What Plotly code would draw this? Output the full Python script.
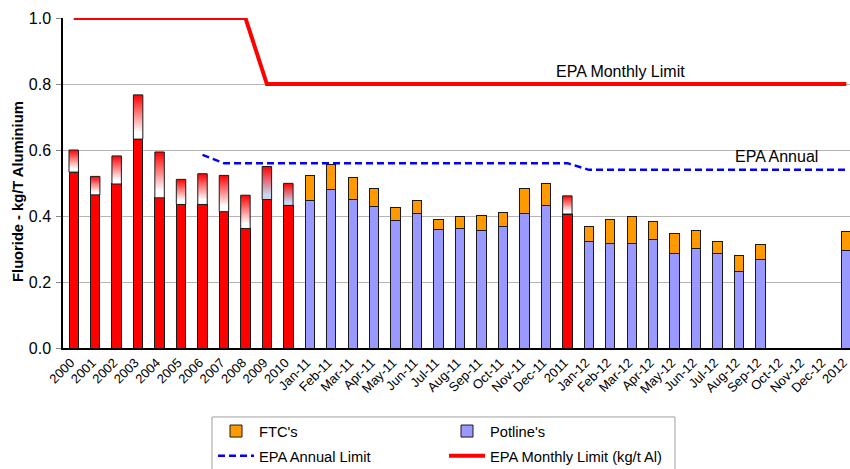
import plotly.graph_objects as go

labels = ["2000", "2001", "2002", "2003", "2004", "2005", "2006", "2007", "2008", "2009", "2010",
          "Jan-11", "Feb-11", "Mar-11", "Apr-11", "May-11", "Jun-11", "Jul-11", "Aug-11", "Sep-11",
          "Oct-11", "Nov-11", "Dec-11", "2011",
          "Jan-12", "Feb-12", "Mar-12", "Apr-12", "May-12", "Jun-12", "Jul-12", "Aug-12", "Sep-12",
          "Oct-12", "Nov-12", "Dec-12", "2012"]

# Annual results: solid lower part and total (top of faded part)
annual_labels = ["2000", "2001", "2002", "2003", "2004", "2005", "2006", "2007", "2008", "2009", "2010", "2011"]
annual_base = [0.533, 0.464, 0.497, 0.633, 0.455, 0.435, 0.435, 0.413, 0.362, 0.450, 0.432, 0.406]
annual_total = [0.600, 0.520, 0.582, 0.767, 0.594, 0.511, 0.528, 0.523, 0.463, 0.550, 0.499, 0.461]

# Monthly results
monthly_labels = ["Jan-11", "Feb-11", "Mar-11", "Apr-11", "May-11", "Jun-11", "Jul-11", "Aug-11",
                  "Sep-11", "Oct-11", "Nov-11", "Dec-11",
                  "Jan-12", "Feb-12", "Mar-12", "Apr-12", "May-12", "Jun-12", "Jul-12", "Aug-12",
                  "Sep-12", "2012"]
potline = [0.448, 0.479, 0.449, 0.428, 0.385, 0.408, 0.358, 0.361, 0.355, 0.367, 0.407, 0.431,
           0.322, 0.318, 0.318, 0.329, 0.286, 0.301, 0.285, 0.231, 0.268, 0.296]
ftc = [0.074, 0.076, 0.068, 0.054, 0.041, 0.040, 0.032, 0.036, 0.047, 0.045, 0.075, 0.069,
       0.047, 0.072, 0.081, 0.054, 0.061, 0.055, 0.037, 0.048, 0.046, 0.056]

epa_monthly = [1.0, 1.0, 1.0, 1.0, 1.0, 1.0, 1.0, 1.0, 1.0, 0.8, 0.8,
               0.8, 0.8, 0.8, 0.8, 0.8, 0.8, 0.8, 0.8, 0.8, 0.8, 0.8, 0.8, 0.8,
               0.8, 0.8, 0.8, 0.8, 0.8, 0.8, 0.8, 0.8, 0.8, 0.8, 0.8, 0.8, 0.8]
epa_annual = [None, None, None, None, None, None, 0.585, 0.56, 0.56, 0.56, 0.56,
              0.56, 0.56, 0.56, 0.56, 0.56, 0.56, 0.56, 0.56, 0.56, 0.56, 0.56, 0.56, 0.56,
              0.54, 0.54, 0.54, 0.54, 0.54, 0.54, 0.54, 0.54, 0.54, 0.54, 0.54, 0.54, 0.54]

yticks = [0.0, 0.2, 0.4, 0.6, 0.8, 1.0]

# styles
FONT = "Liberation Sans, Arial, sans-serif"
RED = "#ff0000"
BLUE_BAR = "#9999ff"
ORANGE = "#ff9900"
fade_colors = ["#ffffff"] * 9 + ["#c8d6ee", "#c8d6ee", "#ffffff"]
BW = 0.44

pos = {lab: i for i, lab in enumerate(labels)}
ax = [pos[l] for l in annual_labels]
mx = [pos[l] for l in monthly_labels]
xi = list(range(len(labels)))

fig = go.Figure()

fig.add_trace(go.Bar(x=ax, y=annual_base, width=BW, marker=dict(color=RED, line=dict(color="#1a1a1a", width=1)),
                     showlegend=False, hoverinfo="skip"))
fig.add_trace(go.Bar(x=mx, y=potline, width=BW, name="Potline's", legendrank=2,
                     marker=dict(color=BLUE_BAR, line=dict(color="#1a1a1a", width=1))))
fig.add_trace(go.Bar(x=mx, y=ftc, width=BW, name="FTC's", legendrank=1,
                     marker=dict(color=ORANGE, line=dict(color="#1a1a1a", width=1))))

# faded (gradient) upper part of annual bars
for x, b, t, fc in zip(ax, annual_base, annual_total, fade_colors):
    h = BW / 2
    fig.add_trace(go.Scatter(
        x=[x - h, x + h, x + h, x - h, x - h], y=[b, b, t, t, b],
        mode="lines", fill="toself", line=dict(color="#1a1a1a", width=1),
        fillgradient=dict(type="vertical", colorscale=[[0, fc], [0.15, fc], [1, RED]]),
        showlegend=False, hoverinfo="skip"))

fig.add_trace(go.Scatter(x=xi, y=epa_annual, mode="lines", name="EPA Annual Limit",
                         line=dict(color="#0000ff", width=2.4, dash="7px,4px"), legend="legend2", legendrank=3))
fig.add_trace(go.Scatter(x=xi, y=epa_monthly, mode="lines", name="EPA Monthly Limit (kg/t Al)",
                         line=dict(color=RED, width=4), legend="legend2", legendrank=4))

fig.add_annotation(x=25.48, y=0.839, text="EPA Monthly Limit", showarrow=False,
                   font=dict(family=FONT, size=16, color="#000"))
fig.add_annotation(x=32.73, y=0.580, text="EPA Annual", showarrow=False,
                   font=dict(family=FONT, size=16, color="#000"))
# y-axis title
fig.add_annotation(xref="paper", yref="paper", x=-0.0572, y=0.476, xanchor="center", yanchor="middle",
                   text="<b>Fluoride - kg/T Aluminium</b>",
                   textangle=-90, showarrow=False, font=dict(family=FONT, size=14.7, color="#000"))

# legend frame
fig.add_shape(type="rect", xref="paper", yref="paper", x0=0.1893, x1=0.7776, y0=-0.209, y1=-0.40,
              line=dict(color="#a0a0a0", width=1), fillcolor="rgba(0,0,0,0)")

leg_common = dict(orientation="h", xanchor="left", yanchor="top", bgcolor="rgba(0,0,0,0)",
                  borderwidth=0, font=dict(family=FONT, size=14.7, color="#000"),
                  entrywidth=180, entrywidthmode="pixels", itemwidth=36, traceorder="normal")
fig.update_layout(
    width=850, height=469,
    margin=dict(l=63, r=0, t=18, b=121, autoexpand=False),
    paper_bgcolor="white", plot_bgcolor="white",
    barmode="stack",
    font=dict(family=FONT, size=13, color="#000"),
    legend=dict(x=0.1906, y=-0.203, **leg_common),
    legend2=dict(x=0.1906, y=-0.278, **leg_common),
    xaxis=dict(range=[-0.5, 36.17], tickmode="array", tickvals=xi, ticktext=labels,
               tickangle=-45, tickfont=dict(family=FONT, size=13, color="#000"), ticklabeloverflow="allow",
               ticklabelshift=-3,
               showgrid=False, showline=True, linecolor="#000", linewidth=2, ticks="", zeroline=False),
    yaxis=dict(range=[0, 1.0], tickmode="array", tickvals=yticks,
               ticktext=[f"{v:.1f}" for v in yticks],
               tickfont=dict(family=FONT, size=16, color="#000"), ticklabelstandoff=2,
               showgrid=True, gridcolor="#b4b4b4", gridwidth=1,
               showline=True, linecolor="#000", linewidth=1.5, ticks="outside", ticklen=5, tickcolor="#888",
               zeroline=False),
)

fig.write_html("out.html", config={"displayModeBar": False},
               post_script="document.body.style.margin='0';document.body.style.overflow='hidden';")
